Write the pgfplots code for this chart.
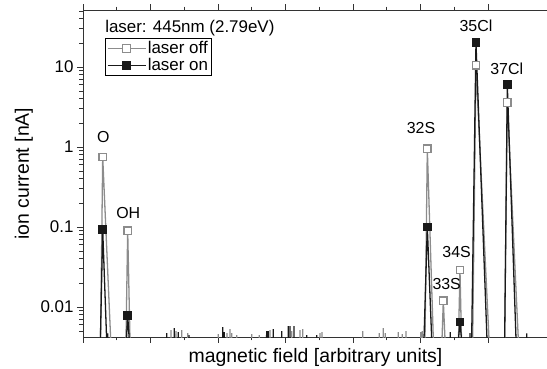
\documentclass[border=0pt]{standalone}
\usepackage{pgfplots}
\pgfplotsset{compat=1.18}
\usepackage{fontspec}
\setmainfont{Liberation Sans}
\definecolor{offgray}{RGB}{140,140,140}
\definecolor{onblack}{RGB}{25,25,25}
\newcommand{\tfont}{\fontsize{17}{20}\selectfont}
\newcommand{\lfont}{\fontsize{19.5}{23}\selectfont}
\newcommand{\afont}{\fontsize{16}{19}\selectfont}
\begin{document}
\begin{tikzpicture}
\begin{axis}[name=ax, scale only axis, width=465bp, height=327bp,
  ymode=log, xmin=0, xmax=68.89, ymin=0.00422, ymax=51.6,
  axis line style={line width=0.9pt, black!80},
  xtick={0,10,20,30,40,50,60}, xticklabels={}, minor x tick num=1,
  ytick={0.01,0.1,1,10}, yticklabels={0.01,0.1,1,10},
  minor ytick={0.005,0.006,0.007,0.008,0.009,0.02,0.03,0.04,0.05,0.06,0.07,0.08,0.09,0.2,0.3,0.4,0.5,0.6,0.7,0.8,0.9,2,3,4,5,6,7,8,9,20,30,40,50},
  tick align=outside, tick pos=both,
  major tick length=6bp, minor tick length=3.5bp,
  every tick/.style={black!80, line width=0.8pt},
  ticklabel style={font=\tfont},
  xlabel={magnetic field [arbitrary units]},
  ylabel={ion current [nA]},
  xlabel style={at={(axis description cs:0.5,-0.062)}, anchor=center, font=\lfont},
  ylabel style={at={(axis description cs:-0.127,0.5)}, anchor=center, font=\lfont},
  legend style={at={(rel axis cs:0.0475,0.914)}, anchor=north west, draw=black, line width=0.8pt,
    font=\tfont, inner sep=1.5bp, row sep=0pt, nodes={inner sep=1.5bp}},
  legend cell align=left,
  legend image code/.code={\draw[mark repeat=2,mark phase=2] plot coordinates {(0bp,0bp)(19bp,0bp)(38bp,0bp)};},
]
% laser off (gray) trace
\addplot[color=offgray, line width=1.3pt, forget plot] coordinates {
 (0,0.001) (2.60,0.004) (2.92,0.75) (4.10,0.004)
 (6.37,0.004) (6.62,0.09) (6.96,0.004)
 (13.00,0.001) (13.04,0.00514) (13.08,0.001)
 (13.74,0.001) (13.78,0.0050) (13.82,0.001)
 (14.58,0.001) (14.62,0.00514) (14.66,0.001)
 (15.47,0.001) (15.51,0.00471) (15.55,0.001)
 (20.00,0.001) (20.04,0.00458) (20.08,0.001)
 (21.29,0.001) (21.33,0.00471) (21.37,0.001)
 (21.74,0.001) (21.78,0.00529) (21.82,0.001)
 (21.99,0.001) (22.03,0.00471) (22.07,0.001)
 (22.73,0.001) (22.77,0.00445) (22.81,0.001)
 (24.95,0.001) (24.99,0.00458) (25.03,0.001)
 (26.08,0.001) (26.12,0.00445) (26.16,0.001)
 (27.66,0.001) (27.70,0.00514) (27.74,0.001)
 (30.88,0.001) (30.92,0.0050) (30.96,0.001)
 (32.11,0.001) (32.15,0.00514) (32.19,0.001)
 (32.51,0.001) (32.55,0.00529) (32.59,0.001)
 (35.07,0.001) (35.11,0.00471) (35.15,0.001)
 (35.37,0.001) (35.41,0.00485) (35.45,0.001)
 (41.40,0.001) (41.44,0.0050) (41.48,0.001)
 (43.86,0.001) (43.90,0.00471) (43.94,0.001)
 (44.45,0.001) (44.49,0.00544) (44.53,0.001)
 (44.75,0.001) (44.79,0.00471) (44.83,0.001)
 (46.67,0.001) (46.71,0.00485) (46.75,0.001)
 (47.26,0.001) (47.30,0.00458) (47.34,0.001)
 (47.81,0.001) (47.85,0.0050) (47.89,0.001)
 (49.99,0.001) (50.03,0.00485) (50.07,0.001)
 (50.23,0.001) (50.27,0.0050) (50.31,0.001)
 (50.67,0.004) (51.01,0.95) (51.90,0.004)
 (53.19,0.004) (53.38,0.012) (53.63,0.004)
 (55.63,0.004) (55.85,0.029) (56.07,0.004)
 (57.73,0.004) (58.22,10.5) (60.15,0.004)
 (62.47,0.004) (62.86,3.6) (64.49,0.004)
 (68.89,0.001)
};
% laser on (black) trace
\addplot[color=onblack, line width=1.3pt, forget plot] coordinates {
 (0,0.001) (2.58,0.004) (2.92,0.092) (3.50,0.004)
 (3.62,0.001) (3.66,0.0047) (3.70,0.001)
 (6.44,0.004) (6.62,0.0078) (6.85,0.004)
 (12.36,0.001) (12.40,0.00471) (12.44,0.001)
 (13.49,0.001) (13.53,0.00544) (13.57,0.001)
 (14.08,0.001) (14.12,0.00485) (14.16,0.001)
 (15.66,0.001) (15.70,0.00445) (15.74,0.001)
 (20.66,0.001) (20.70,0.0056) (20.74,0.001)
 (20.89,0.001) (20.93,0.00485) (20.97,0.001)
 (27.17,0.001) (27.21,0.0050) (27.25,0.001)
 (27.41,0.001) (27.45,0.0050) (27.49,0.001)
 (28.15,0.001) (28.19,0.00529) (28.23,0.001)
 (29.40,0.001) (29.44,0.0050) (29.48,0.001)
 (30.37,0.001) (30.41,0.00577) (30.45,0.001)
 (30.63,0.001) (30.67,0.00577) (30.71,0.001)
 (31.22,0.001) (31.26,0.00577) (31.30,0.001)
 (33.10,0.001) (33.14,0.00445) (33.18,0.001)
 (34.58,0.001) (34.62,0.00445) (34.66,0.001)
 (50.52,0.004) (51.01,0.10) (51.66,0.004)
 (54.36,0.001) (54.40,0.00485) (54.44,0.001)
 (55.63,0.004) (55.85,0.0065) (56.07,0.004)
 (57.29,0.001) (57.33,0.00471) (57.37,0.001)
 (57.58,0.004) (58.22,20) (59.85,0.004)
 (62.47,0.004) (62.86,6.0) (64.15,0.004)
 (65.69,0.001) (65.73,0.0047) (65.77,0.001)
 (68.89,0.001)
};
% peak markers
\addplot[only marks, mark=square*, mark size=3.8bp, draw=offgray, fill=white, line width=1.3pt, forget plot] coordinates {
 (2.92,0.75) (6.62,0.09) (51.01,0.95) (53.38,0.012) (55.85,0.029) (58.22,10.5) (62.86,3.6)
};
\addplot[only marks, mark=square*, mark size=3.8bp, draw=onblack, fill=onblack, line width=1.3pt, forget plot] coordinates {
 (2.92,0.092) (6.62,0.0078) (51.01,0.10) (55.85,0.0065) (58.22,20) (62.86,6.0)
};
\addlegendimage{color=offgray, line width=1.3pt, mark=square*, mark size=3.8bp, mark options={fill=white, draw=offgray}}
\addlegendentry{laser off}
\addlegendimage{color=onblack, line width=1.3pt, mark=square*, mark size=3.8bp, mark options={fill=onblack}}
\addlegendentry{laser on}
% annotations
\node[font=\afont] at (axis cs:3.0,1.35) {O};
\node[font=\afont] at (axis cs:6.71,0.151) {OH};
\node[font=\afont] at (axis cs:50.07,1.71) {32S};
\node[font=\afont] at (axis cs:53.88,0.0194) {33S};
\node[font=\afont] at (axis cs:55.36,0.0483) {34S};
\node[font=\afont] at (axis cs:58.22,32.5) {35Cl};
\node[font=\afont] at (axis cs:62.77,9.63) {37Cl};
\node[anchor=west, inner sep=0pt, font=\tfont] at (rel axis cs:0.0475,0.944) {laser: 445nm (2.79eV)};
\end{axis}
\pgfresetboundingbox
\useasboundingbox (ax.south west) ++(-83bp,-32bp) rectangle ++(547bp,369bp);
\end{tikzpicture}
\end{document}
